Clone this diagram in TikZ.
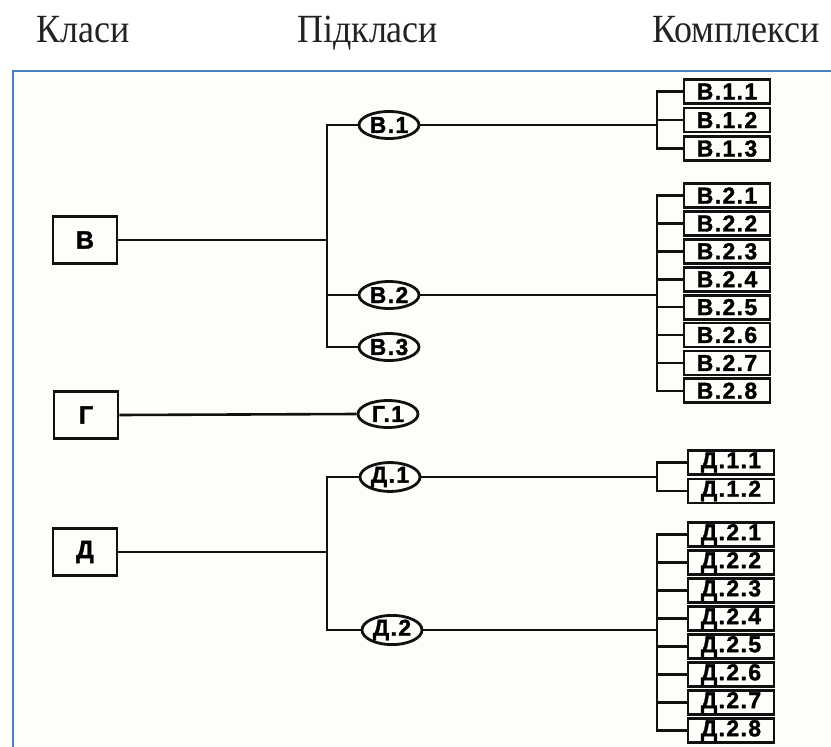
\documentclass[tikz,border=0pt]{standalone}
\usepackage{fontspec}
\setmainfont{Liberation Serif}
\newfontfamily\labelfont[FakeBold=1.5]{Liberation Sans Bold}
\newfontfamily\wideLabelfont[LetterSpace=6, FakeBold=1.5]{Liberation Sans Bold}
\usetikzlibrary{shapes.geometric}
\definecolor{framecol}{HTML}{4A7FC1}
\definecolor{paper}{HTML}{FFFDF9}
\definecolor{ink}{HTML}{111111}
\definecolor{headink}{HTML}{222222}
\tikzset{
  x=1pt, y=-1pt,
  head/.style={anchor=base west, inner sep=0pt, text=headink,
    font=\fontsize{40}{44}\selectfont},
  classbox/.style={draw=ink, line width=2.8pt, rectangle, minimum width=64pt,
    minimum height=47pt, inner sep=0pt,
    font=\labelfont\fontsize{25}{27}\selectfont},
  subell/.style={draw=ink, line width=2.8pt, ellipse, minimum width=60pt,
    minimum height=27pt, inner sep=0pt,
    font=\wideLabelfont\fontsize{23}{25}\selectfont},
  cplx/.style={draw=ink, line width=2.8pt, rectangle, minimum width=86pt,
    minimum height=24pt, inner sep=0pt,
    font=\wideLabelfont\fontsize{23}{25}\selectfont},
  link/.style={draw=ink, line width=2.6pt},
}
\begin{document}
\begin{tikzpicture}
\useasboundingbox (0,0) rectangle (831,747);
% sheet with its blue edge
\fill[paper] (13,71) rectangle (831,747);
\draw[framecol, line width=2.2pt] (13,747) -- (13,71) -- (831,71);

% column headings
\node[head] (hA) at (36,42) {\scalebox{0.9}[1]{Класи}};
\node[head] (hB) at (297,42) {\scalebox{0.9}[1]{Підкласи}};
\node[head] (hC) at (652,42) {\scalebox{0.9}[1]{Комплекси}};

% classes
\node[classbox] (cB) at (85,240) {В};
\node[classbox] (cG) at (86,415) {Г};
\node[classbox] (cD) at (85,552) {Д};

% subclasses
\node[subell] (sB1) at (389,125) {В.1};
\node[subell] (sB2) at (389,295) {В.2};
\node[subell] (sB3) at (389,347) {В.3};
\node[subell] (sG1) at (388,414) {Г.1};
\node[subell] (sD1) at (390,477) {Д.1};
\node[subell] (sD2) at (392,630) {Д.2};

% complexes
\foreach \k/\yy in {1/91.5, 2/120, 3/148.5}
  \node[cplx] (kB1\k) at (727,\yy) {В.1.\k};
\foreach \k in {1,...,8}
  \node[cplx] (kB2\k) at (727,{195.5+27.9*(\k-1)}) {В.2.\k};
\foreach \k/\yy in {1/462.5, 2/491}
  \node[cplx] (kD1\k) at (731,\yy) {Д.1.\k};
\foreach \k in {1,...,8}
  \node[cplx] (kD2\k) at (731,{534.5+28*(\k-1)}) {Д.2.\k};

% junction points
\coordinate (jB) at (327,240);
\coordinate (jD) at (327,552);
\coordinate (jB1) at (657,125);
\coordinate (jB2) at (657,295);
\coordinate (jD1) at (657,477);
\coordinate (jD2) at (657,630);

% class -> subclass
\draw[link] (cB.east) -- (jB);
\draw[link] (sB1.west) -| (jB);
\draw[link] (sB3.west) -| (jB);
\draw[link] (sB2.west) -- (sB2.west -| jB);
\draw[link] (cG.east) -- (sG1.west);
\draw[link] (cD.east) -- (jD);
\draw[link] (sD1.west) -| (jD);
\draw[link] (sD2.west) -| (jD);

% subclass -> complexes
\draw[link] (sB1.east) -- (jB1);
\foreach \k in {1,2,3} \draw[link] (kB1\k.west) -| (jB1);
\draw[link] (sB2.east) -- (jB2);
\foreach \k in {1,...,8} \draw[link] (kB2\k.west) -| (jB2);
\draw[link] (sD1.east) -- (jD1);
\foreach \k in {1,2} \draw[link] (kD1\k.west) -| (jD1);
\draw[link] (sD2.east) -- (jD2);
\foreach \k in {1,...,8} \draw[link] (kD2\k.west) -| (jD2);
\end{tikzpicture}
\end{document}
